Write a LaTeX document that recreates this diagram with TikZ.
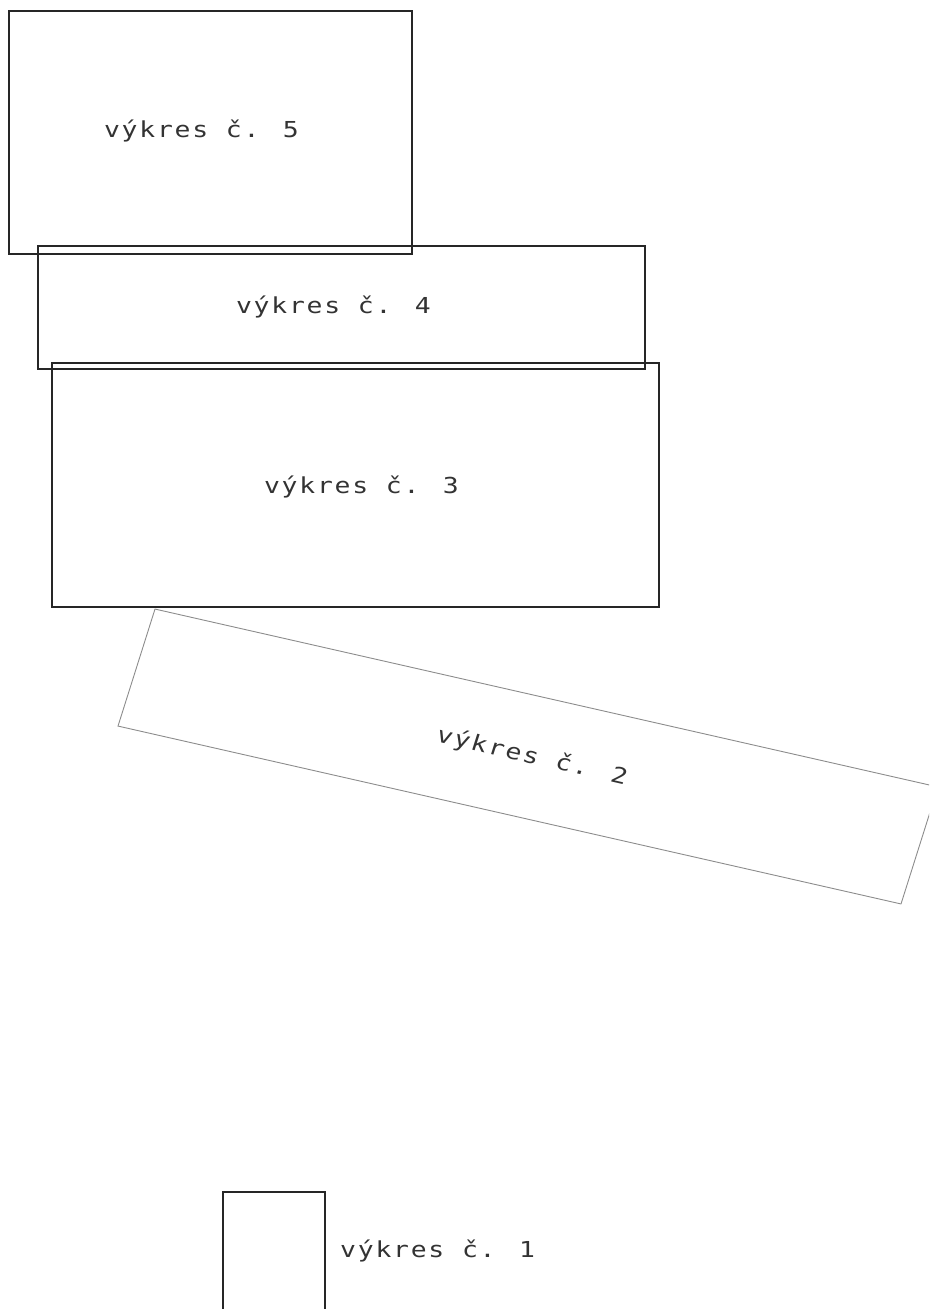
\documentclass[tikz,border=0pt]{standalone}
\usepackage{fontspec}
\newfontfamily\cadfont[FakeStretch=1.2,LetterSpace=8]{DejaVu Sans Mono}
\begin{document}
\begin{tikzpicture}[x=1pt,y=-1pt,
  box/.style={draw=black!85,line width=1.3pt,inner sep=0pt,outer sep=0pt},
  graybox/.style={draw=black!45,line width=0.9pt,inner sep=0pt,outer sep=0pt},
  lbl/.style={text=black!80,inner sep=0pt,font=\cadfont\fontsize{22}{26}\selectfont}]
\useasboundingbox (0,0) rectangle (929,1309);
\clip (0,0) rectangle (929,1309);
% boxes
\node[box,minimum width=403pt,minimum height=243pt] (r5) at (210.5,132.5) {};
\node[box,minimum width=607pt,minimum height=123pt] (r4) at (341.5,307.5) {};
\node[box,minimum width=607pt,minimum height=244pt] (r3) at (355.5,485) {};
\node[graybox,rotate=-12.8,xslant=0.083,minimum width=803pt,minimum height=122.3pt] (r2) at (528,756.5) {};
\node[box,minimum width=102pt,minimum height=130pt] (r1) at (274,1257) {};
% labels
\node[lbl,anchor=base] (t5) at (201.5,137) {výkres č. 5};
\node[lbl,anchor=base] (t4) at (333.5,313) {výkres č. 4};
\node[lbl,anchor=base] (t3) at (361.5,493) {výkres č. 3};
\node[lbl,rotate=-12.8,xslant=0.083] (t2) at (532,757) {výkres č. 2};
\node[lbl,anchor=base west] (t1) at (340,1257) {výkres č. 1};
\end{tikzpicture}
\end{document}
